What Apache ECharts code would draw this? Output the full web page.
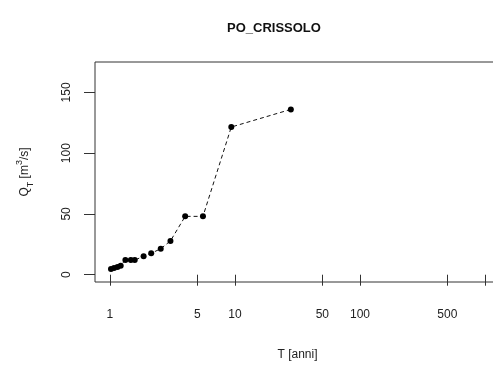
<!DOCTYPE html>
<html lang="it">
<head>
  <meta charset="UTF-8" />
  <title>PO_CRISSOLO</title>
  <script src="https://cdn.jsdelivr.net/npm/echarts@6/dist/echarts.min.js"></script>
  <style>
    html, body { margin: 0; padding: 0; background: #fff; }
    #chart { width: 493px; height: 371px; }
  </style>
</head>
<body>
  <div id="chart"></div>
  <script>
    // tempo di ritorno T [anni] e portata Q_T [m3/s]
    const returnPeriods = [1.02, 1.08, 1.15, 1.22, 1.33, 1.47, 1.58, 1.86, 2.14, 2.55, 3.05, 4.0, 5.55, 9.35, 28];
    const discharges = [4.7, 5.5, 6.4, 7.4, 12.2, 12.2, 12.0, 15.2, 17.6, 21.4, 27.8, 48, 48, 121.5, 136];
    const xTicks = [1, 5, 10, 50, 100, 500, 1000];
    const yTicks = [0, 50, 100, 150];

    const chart = echarts.init(document.getElementById('chart'));
    const font = '"Liberation Sans", Arial, sans-serif';
    const ink = '#222';

    chart.setOption({
      animation: false,
      title: {
        text: 'PO_CRISSOLO',
        left: 222,
        top: 17,
        textStyle: { fontFamily: font, fontSize: 13, fontWeight: 'bold', color: '#111' }
      },
      grid: {
        left: 95, top: 62, width: 405, height: 220,
        outerBoundsMode: 'none',
        containLabel: false,
        show: true, borderColor: '#333', borderWidth: 1, backgroundColor: 'transparent'
      },
      xAxis: {
        type: 'log',
        min: 0.76,
        max: 1318,
        name: 'T [anni]',
        nameLocation: 'middle',
        nameGap: 67,
        nameTextStyle: { fontFamily: font, fontSize: 12, color: ink },
        axisLine: { show: false },
        splitLine: { show: false },
        minorTick: { show: false },
        axisTick: { show: true, length: 11, lineStyle: { color: '#333' }, customValues: xTicks },
        axisLabel: {
          margin: 27, fontFamily: font, fontSize: 12, color: ink,
          customValues: xTicks, showMinLabel: true, showMaxLabel: true,
          formatter: v => (v >= 1000 ? '' : String(v))
        }
      },
      yAxis: {
        type: 'value',
        min: -6,
        max: 175,
        name: '{q|Q}{sub|T}{q| [m}{sup|3}{q|/s]}',
        nameLocation: 'middle',
        nameRotate: 90,
        nameGap: 60,
        nameTextStyle: {
          fontFamily: font, color: ink,
          rich: {
            q: { fontFamily: font, fontSize: 12, color: ink, lineHeight: 20, verticalAlign: 'middle' },
            sub: { fontFamily: font, fontSize: 9, color: ink, lineHeight: 20, verticalAlign: 'bottom' },
            sup: { fontFamily: font, fontSize: 9, color: ink, lineHeight: 20, verticalAlign: 'top' }
          }
        },
        axisLine: { show: false },
        splitLine: { show: false },
        axisTick: { show: true, length: 11, lineStyle: { color: '#333' }, customValues: yTicks },
        axisLabel: {
          rotate: 90, margin: 22, fontFamily: font, fontSize: 12, color: ink,
          customValues: yTicks
        }
      },
      series: [{
        type: 'line',
        data: returnPeriods.map((t, i) => [t, discharges[i]]),
        symbol: 'circle',
        symbolSize: 6,
        itemStyle: { color: '#000' },
        lineStyle: { color: '#111', width: 1, type: [4, 3] }
      }]
    });
  </script>
</body>
</html>
